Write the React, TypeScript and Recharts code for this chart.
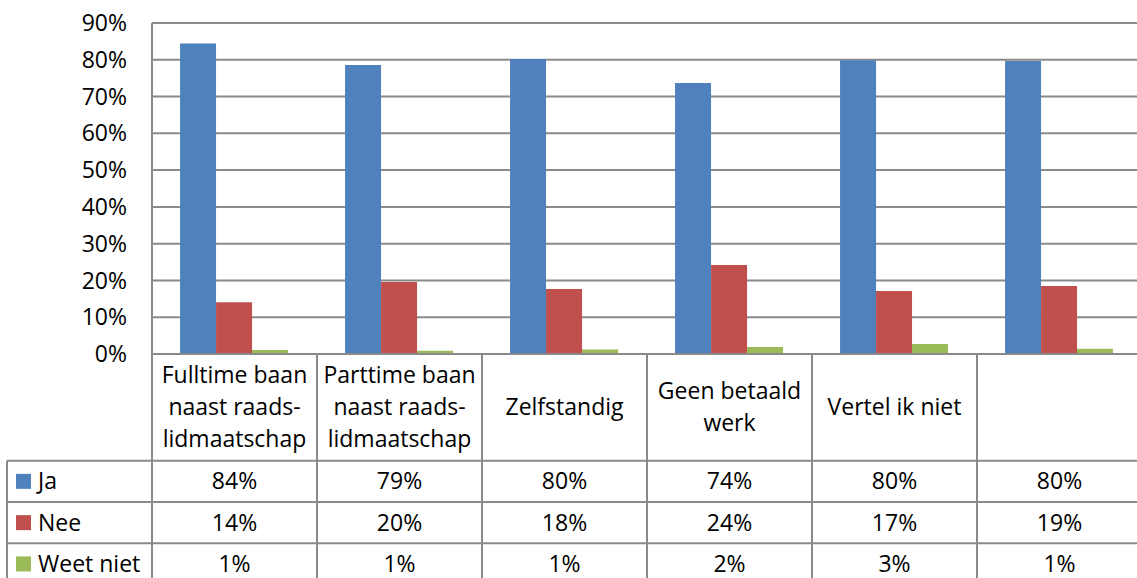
import React from 'react';
import { BarChart, Bar, XAxis, YAxis, CartesianGrid } from 'recharts';

// categorieën (regels gesplitst zoals in de tabel)
const categories = [
  'Fulltime baan\nnaast raads-\nlidmaatschap',
  'Parttime baan\nnaast raads-\nlidmaatschap',
  'Zelfstandig',
  'Geen betaald\nwerk',
  'Vertel ik niet',
  '',
];
const seriesNames = ['Ja', 'Nee', 'Weet niet'];
const ja = [84.4, 78.6, 80.2, 73.7, 79.9, 79.7];
const nee = [14.1, 19.6, 17.7, 24.2, 17.1, 18.5];
const weetNiet = [1.1, 0.9, 1.2, 1.9, 2.7, 1.4];
const yTicks = [0, 10, 20, 30, 40, 50, 60, 70, 80, 90];

const colors = ['#4F81BD', '#C0504D', '#9BBB59'];
const FONT = "'Open Sans', 'Noto Sans', sans-serif";
const FONT_SIZE = 23;
const LINE = '#8a8a8a';

const CHART_W = 1145;
const CHART_H = 600;
const PLOT_LEFT = 152;
const PLOT_RIGHT = 1142;
const PLOT_TOP = 23;
const PLOT_BOTTOM = 354;
const BAND = (PLOT_RIGHT - PLOT_LEFT) / categories.length;
const HEADER_H = 106.7;
const ROW_H = 41.3;
const TABLE_LEFT = 7;

const seriesValues = [ja, nee, weetNiet];

const data = categories.map((c, i) => ({
  name: c,
  ja: ja[i],
  nee: nee[i],
  weetNiet: weetNiet[i],
}));

const TableTick = (props: any) => {
  const { x, y, payload } = props;
  const i = payload.index;
  const half = BAND / 2;
  const lines = categories[i] ? categories[i].split('\n') : [];
  const headerMid = y + HEADER_H / 2;
  const lineH = 32;
  const rowsTop = y + HEADER_H;
  const bottom = CHART_H;

  return (
    <g>
      {/* kolomranden */}
      <line x1={x - half} y1={y} x2={x - half} y2={bottom} stroke={LINE} strokeWidth={2} />
      <line x1={x + half} y1={y} x2={x + half} y2={bottom} stroke={LINE} strokeWidth={2} />
      {lines.map((l, k) => (
        <text
          key={k}
          x={x}
          y={headerMid + (k - (lines.length - 1) / 2) * lineH}
          dy="0.35em"
          textAnchor="middle"
          fontFamily={FONT}
          fontSize={FONT_SIZE}
          fill="#000"
        >
          {l}
        </text>
      ))}
      {seriesValues.map((vals, r) => (
        <g key={r}>
          <line
            x1={x - half}
            y1={rowsTop + r * ROW_H}
            x2={x + half}
            y2={rowsTop + r * ROW_H}
            stroke={LINE}
            strokeWidth={2}
          />
          <text
            x={x}
            y={rowsTop + r * ROW_H + ROW_H / 2}
            dy="0.35em"
            textAnchor="middle"
            fontFamily={FONT}
            fontSize={FONT_SIZE}
            fill="#000"
          >
            {Math.round(vals[i])}%
          </text>
        </g>
      ))}
      {/* legendakolom links van de eerste kolom */}
      {i === 0 && (
        <g>
          <line x1={TABLE_LEFT} y1={rowsTop} x2={TABLE_LEFT} y2={bottom} stroke={LINE} strokeWidth={2} />
          {seriesNames.map((s, r) => (
            <g key={s}>
              <line
                x1={TABLE_LEFT}
                y1={rowsTop + r * ROW_H}
                x2={x - half}
                y2={rowsTop + r * ROW_H}
                stroke={LINE}
                strokeWidth={2}
              />
              <rect
                x={16}
                y={rowsTop + r * ROW_H + ROW_H / 2 - 7.5}
                width={15}
                height={15}
                fill={colors[r]}
              />
              <text
                x={38}
                y={rowsTop + r * ROW_H + ROW_H / 2}
                dy="0.35em"
                fontFamily={FONT}
                fontSize={FONT_SIZE}
                fill="#000"
              >
                {s}
              </text>
            </g>
          ))}
        </g>
      )}
    </g>
  );
};

export default function App() {
  return (
    <div
      style={{
        position: 'absolute',
        left: 0,
        top: 0,
        width: 1137,
        height: 578,
        overflow: 'hidden',
        background: '#fff',
      }}
    >
      <BarChart
        width={CHART_W}
        height={CHART_H}
        data={data}
        margin={{ top: PLOT_TOP, right: CHART_W - PLOT_RIGHT, left: 0, bottom: 0 }}
        barCategoryGap="17%"
        barGap={0}
      >
        <CartesianGrid vertical={false} stroke={LINE} strokeWidth={2} />
        <XAxis
          dataKey="name"
          height={CHART_H - PLOT_BOTTOM}
          axisLine={{ stroke: LINE, strokeWidth: 2 }}
          tickLine={false}
          tickSize={0}
          tickMargin={0}
          interval={0}
          tick={<TableTick />}
        />
        <YAxis
          width={PLOT_LEFT}
          domain={[0, 90]}
          ticks={yTicks}
          interval={0}
          tickFormatter={(v) => `${v}%`}
          axisLine={{ stroke: LINE, strokeWidth: 2 }}
          tickLine={false}
          tickSize={0}
          tickMargin={25}
          tick={{ fontFamily: FONT, fontSize: FONT_SIZE, fill: '#000' }}
        />
        <Bar dataKey="ja" name="Ja" fill={colors[0]} isAnimationActive={false} />
        <Bar dataKey="nee" name="Nee" fill={colors[1]} isAnimationActive={false} />
        <Bar dataKey="weetNiet" name="Weet niet" fill={colors[2]} isAnimationActive={false} />
      </BarChart>
    </div>
  );
}
